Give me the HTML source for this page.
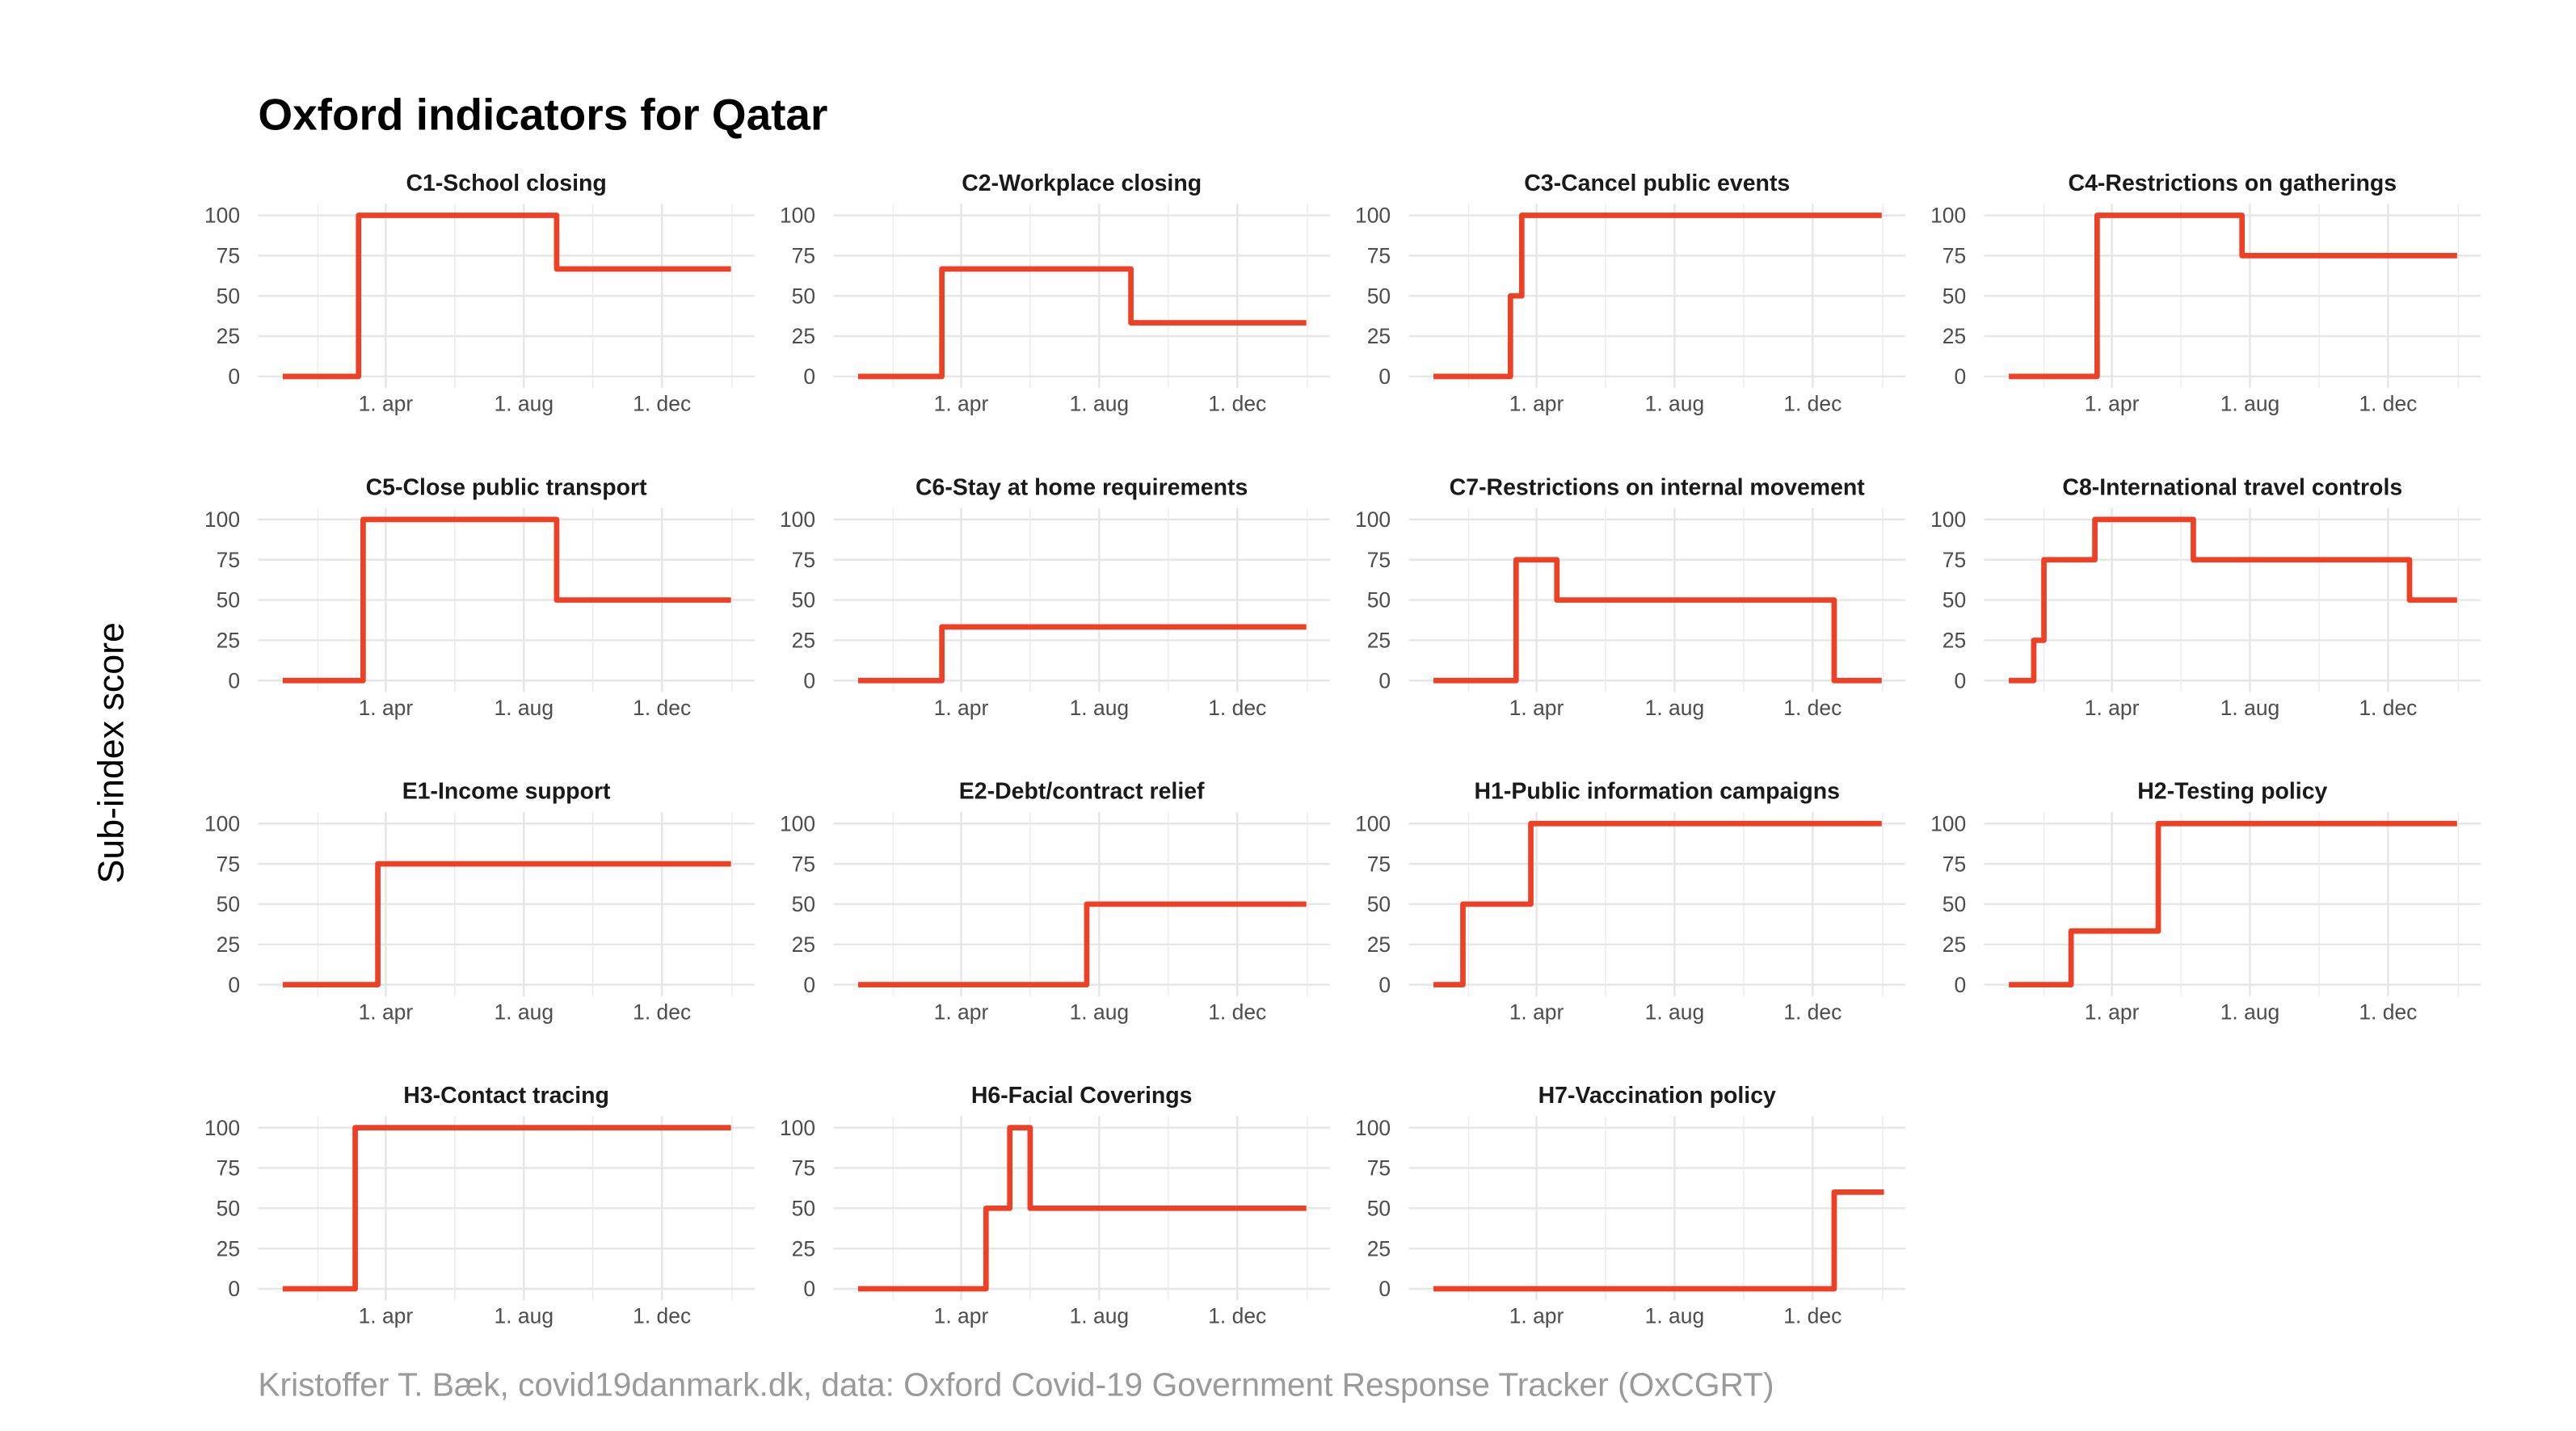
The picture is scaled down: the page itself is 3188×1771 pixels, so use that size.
<!DOCTYPE html>
<html><head><meta charset="utf-8"><style>
html,body{margin:0;padding:0;background:#fff;}
svg{display:block;font-family:"Liberation Sans",sans-serif;}
</style></head><body>
<svg id="chart" width="3188" height="1771" viewBox="0 0 1567 870.5" xmlns="http://www.w3.org/2000/svg">
<rect width="1567" height="870.5" fill="#fff"/>
<text x="157" y="79" font-size="27" font-weight="bold" fill="#000">Oxford indicators for Qatar</text>
<text transform="translate(75,458) rotate(-90)" text-anchor="middle" font-size="22" fill="#000">Sub-index score</text>
<text x="157" y="849" font-size="20" fill="#9a9a9a">Kristoffer T. Bæk, covid19danmark.dk, data: Oxford Covid-19 Government Response Tracker (OxCGRT)</text>
<g id="panels"></g>
</svg>
<script>
// Day 0 = 2020-01-01
const panelTitles = ["C1-School closing","C2-Workplace closing","C3-Cancel public events","C4-Restrictions on gatherings","C5-Close public transport","C6-Stay at home requirements","C7-Restrictions on internal movement","C8-International travel controls","E1-Income support","E2-Debt/contract relief","H1-Public information campaigns","H2-Testing policy","H3-Contact tracing","H6-Facial Coverings","H7-Vaccination policy"];
// step change days and values for each panel
const changeDays = [
  [0,67,242,396],[0,74,241,396],[0,68,78,396],[0,78,206,396],
  [0,71,242,396],[0,74,396],[0,73,109,354,396],[0,22,31,76,163,354,396],
  [0,84,396],[0,202,396],[0,26,86,396],[0,55,132,396],
  [0,64,396],[0,113,134,152,396],[0,354,398]
];
const stepValues = [
  [0,100,66.7],[0,66.7,33.3],[0,50,100],[0,100,75],
  [0,100,50],[0,33.3],[0,75,50,0],[0,25,75,100,75,50],
  [0,75],[0,50],[0,50,100],[0,33.3,100],
  [0,100],[0,50,100,50],[0,60]
];
const yTicks = [0,25,50,75,100];
const majorDays = [91,213,335];
const majorLabels = ["1. apr","1. aug","1. dec"];
const minorDays = [31,152,274,397];

const NS="http://www.w3.org/2000/svg";
const g=document.getElementById('panels');
function mk(tag,attrs,parent){const e=document.createElementNS(NS,tag);for(const k in attrs)e.setAttribute(k,attrs[k]);(parent||g).appendChild(e);return e;}
const pxPerDay=84/122;
panelTitles.forEach((title,i)=>{
  const col=i%4,row=Math.floor(i/4);
  const ox=col*350, oy=row*185;
  const xs=d=>172+ox+d*pxPerDay;
  const ys=v=>229+oy-v*0.98;
  const pg=mk('g',{});
  
  
  const left=157+ox,right=459+ox,top=124+oy,bot=236+oy;
  minorDays.forEach(d=>{const l=mk('line',{x1:xs(d),x2:xs(d),y1:top,y2:bot,stroke:'#ececec','stroke-width':0.7},pg);
    });
  majorDays.forEach((d,k)=>{const l=mk('line',{x1:xs(d),x2:xs(d),y1:top,y2:bot,stroke:'#e6e6e6','stroke-width':1.2},pg);
    
    const t=mk('text',{x:xs(d),y:250+oy,'text-anchor':'middle','font-size':13,fill:'#4d4d4d'},pg);t.textContent=majorLabels[k];
    });
  yTicks.forEach(v=>{const l=mk('line',{x1:left,x2:right,y1:ys(v),y2:ys(v),stroke:'#e6e6e6','stroke-width':1.2},pg);
    
    const t=mk('text',{x:146+ox,y:ys(v)+4.5,'text-anchor':'end','font-size':13,fill:'#4d4d4d'},pg);t.textContent=v;
    });
  const tt=mk('text',{x:308+ox,y:116+oy,'text-anchor':'middle','font-size':14,'font-weight':'bold',fill:'#1a1a1a'},pg);tt.textContent=title;
  
  const days=changeDays[i],vals=stepValues[i];
  let d='M'+xs(days[0])+','+ys(vals[0]);
  for(let k=0;k<vals.length;k++){
    d+=' L'+xs(days[k+1])+','+ys(vals[k]);
    if(k+1<vals.length) d+=' L'+xs(days[k+1])+','+ys(vals[k+1]);
  }
  const p=mk('path',{d:d,fill:'none',stroke:'#ee4024','stroke-width':3.3,'stroke-linejoin':'round'},pg);
  
  
});
</script>
</body></html>
